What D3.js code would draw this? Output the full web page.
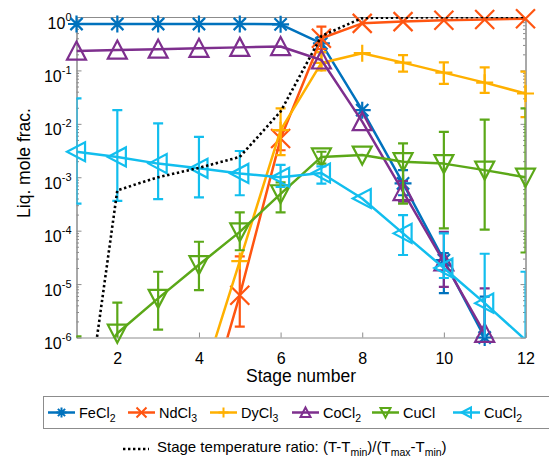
<!DOCTYPE html>
<html>
<head>
<meta charset="utf-8">
<script src="https://cdn.jsdelivr.net/npm/d3@7"></script>
<style>
  body { margin: 0; background: #fff; }
  svg { display: block; }
  text { font-family: "Liberation Sans", Arial, Helvetica, sans-serif; fill: #000; }
</style>
</head>
<body>
<svg id="chart" width="549" height="459"></svg>
<script>
// ---- data ----
const stages = [1, 2, 3, 4, 5, 6, 7, 8, 9, 10, 11, 12];
const xTicks = [2, 4, 6, 8, 10, 12];
const yTicks = [1e-6, 1e-5, 1e-4, 1e-3, 1e-2, 1e-1, 1];

const fecl2   = [0.74, 0.74, 0.74, 0.74, 0.74, 0.73, 0.32, 0.018, 7.7e-4, 2.8e-5, 1.0e-6, null];
const fecl2Lo = [null, null, null, null, null, null, 0.22, null, 4.6e-4, 6.8e-6, 1e-8, null];
const fecl2Hi = [null, null, null, null, null, null, 0.42, null, 1.36e-3, 3.8e-5, 5.8e-6, null];

const ndcl3   = [null, null, null, 1.5e-8, 6.2e-6, 5.3e-3, 0.40, 0.76, 0.82, 0.87, 0.90, 0.93];
const ndcl3Lo = [null, null, null, null, 1.6e-6, 3.2e-3, 0.25, null, null, null, null, null];
const ndcl3Hi = [null, null, null, null, 3.3e-5, 7.5e-3, 0.66, null, null, null, null, null];

const dycl3   = [null, null, null, 1e-7, 2.7e-5, 7.6e-3, 0.138, 0.21, 0.14, 0.091, 0.059, 0.037];
const dycl3Lo = [null, null, null, null, null, 2.6e-3, 0.10, null, 0.095, 0.056, 0.038, 0.0134];
const dycl3Hi = [null, null, null, null, null, 0.0195, 0.22, null, 0.194, 0.142, 0.114, 0.095];

const cocl2   = [0.23, 0.24, 0.25, 0.26, 0.27, 0.28, 0.157, 0.011, 5.4e-4, 2.6e-5, 1.2e-6, null];
const cocl2Lo = [null, null, null, null, null, null, null, null, 3.5e-4, 8.9e-6, 1e-8, null];
const cocl2Hi = [null, null, null, null, null, null, null, null, 8.5e-4, 9.5e-5, 8.3e-6, null];

const cucl    = [1e-7, 1.2e-6, 5.4e-6, 2.3e-5, 9.5e-5, 4.9e-4, 2.4e-3, 2.6e-3, 1.95e-3, 1.8e-3, 1.36e-3, 1.0e-3];
const cuclLo  = [1e-8, 1e-8, 1.4e-6, 7.7e-6, 4.3e-5, 2.2e-4, 1.8e-3, null, 3.2e-4, 1.1e-4, 1.05e-4, 3.9e-5];
const cuclHi  = [1.05e-6, 4.5e-6, 1.7e-5, 6.2e-5, 2.2e-4, 8.0e-4, 3.0e-3, null, 4.3e-3, 7.1e-3, 0.012, 0.0195];

const cucl2   = [3.0e-3, 2.4e-3, 1.8e-3, 1.47e-3, 1.18e-3, 1.0e-3, 1.2e-3, 4.0e-4, 8.9e-5, 2.0e-5, 4.4e-6, 9e-7];
const cucl2Lo = [3.2e-4, 3.6e-4, 3.9e-4, 4.2e-4, 4.6e-4, 6.6e-4, 7.6e-4, null, 3.5e-5, 1.3e-5, 1e-8, 1e-8];
const cucl2Hi = [0.030, 0.018, 0.0102, 5.7e-3, 3.1e-3, 1.7e-3, 1.6e-3, null, 1.95e-4, 8.9e-5, 3.7e-5, 1.7e-5];

const tempRatio = [1.7e-9, 5.7e-4, 1.0e-3, 1.5e-3, 2.4e-3, 0.017, 0.44, 0.96, 0.98, 0.99, 1.0, 1.0];

const series = [
  { name: 'FeCl', sub: '2', color: '#0072BD', marker: 'asterisk', vals: fecl2, lo: fecl2Lo, hi: fecl2Hi, lx: 48 },
  { name: 'NdCl', sub: '3', color: '#FF5511', marker: 'cross',    vals: ndcl3, lo: ndcl3Lo, hi: ndcl3Hi, lx: 128 },
  { name: 'DyCl', sub: '3', color: '#FFB000', marker: 'plus',     vals: dycl3, lo: dycl3Lo, hi: dycl3Hi, lx: 210 },
  { name: 'CoCl', sub: '2', color: '#7E2F8E', marker: 'triUp',    vals: cocl2, lo: cocl2Lo, hi: cocl2Hi, lx: 292 },
  { name: 'CuCl', sub: '',  color: '#5BA818', marker: 'triDown',  vals: cucl,  lo: cuclLo,  hi: cuclHi,  lx: 372 },
  { name: 'CuCl', sub: '2', color: '#12BEEE', marker: 'triLeft',  vals: cucl2, lo: cucl2Lo, hi: cucl2Hi, lx: 453 }
];

// ---- layout ----
const svg = d3.select('#chart');
const plotLeft = 76.5, plotRight = 525.5, plotTop = 17, plotBottom = 337.5;
const axisColor = '#8c8c8c';

const x = d3.scaleLinear().domain([1, 12]).range([plotLeft, plotRight]);
const y = d3.scaleLog().domain([1e-6, 1]).range([plotBottom, plotTop]);

svg.append('defs').append('clipPath').attr('id', 'plotClip')
  .append('rect')
  .attr('x', plotLeft).attr('y', plotTop)
  .attr('width', plotRight - plotLeft).attr('height', plotBottom - plotTop);

// minor ticks for log axis
const minorTicks = [];
yTicks.slice(0, -1).forEach(function(t) {
  for (let k = 2; k <= 9; k++) minorTicks.push(t * k);
});

function styleAxis(g) {
  g.selectAll('path, line').attr('stroke', axisColor);
  g.select('.domain').attr('stroke-width', 1);
}

// box + ticks
svg.append('g').attr('transform', `translate(0,${plotBottom})`)
  .call(d3.axisBottom(x).tickValues(xTicks).tickSize(-5).tickSizeOuter(0).tickPadding(15)
    .tickFormat(d3.format('d')))
  .call(styleAxis)
  .call(g => g.selectAll('text').attr('font-size', 16).attr('fill', '#000'));

svg.append('g').attr('transform', `translate(0,${plotTop})`)
  .call(d3.axisTop(x).tickValues(xTicks).tickSize(-5).tickSizeOuter(0).tickFormat(''))
  .call(styleAxis);

const yAxisG = svg.append('g').attr('transform', `translate(${plotLeft},0)`)
  .call(d3.axisLeft(y).tickValues(yTicks).tickSize(-5).tickSizeOuter(0).tickPadding(5))
  .call(styleAxis);

yAxisG.selectAll('.tick text').each(function(d) {
  const t = d3.select(this);
  t.text(null).attr('font-size', 16).attr('fill', '#000').attr('dy', null).attr('y', 11);
  t.append('tspan').text('10');
  t.append('tspan').attr('font-size', 11).attr('dy', -8).text(String(Math.round(Math.log10(d))));
});

svg.append('g').attr('transform', `translate(${plotLeft},0)`)
  .call(d3.axisLeft(y).tickValues(minorTicks).tickSize(-2.5).tickSizeOuter(0).tickFormat(''))
  .call(styleAxis);

svg.append('g').attr('transform', `translate(${plotRight},0)`)
  .call(d3.axisRight(y).tickValues(yTicks).tickSize(-5).tickSizeOuter(0).tickFormat(''))
  .call(styleAxis);

svg.append('g').attr('transform', `translate(${plotRight},0)`)
  .call(d3.axisRight(y).tickValues(minorTicks).tickSize(-2.5).tickSizeOuter(0).tickFormat(''))
  .call(styleAxis);

// axis titles
svg.append('text')
  .attr('x', (plotLeft + plotRight) / 2).attr('y', 382)
  .attr('text-anchor', 'middle').attr('font-size', 17.5)
  .text('Stage number');

svg.append('text')
  .attr('transform', 'translate(30,163) rotate(-90)')
  .attr('text-anchor', 'middle').attr('font-size', 17.5)
  .text('Liq. mole frac.');

// ---- markers ----
function markerPath(type, r) {
  const d = r * 0.72;
  switch (type) {
    case 'asterisk': return `M${-r},0H${r}M0,${-r}V${r}M${-d},${-d}L${d},${d}M${-d},${d}L${d},${-d}`;
    case 'cross':    return `M${-r},${-r}L${r},${r}M${-r},${r}L${r},${-r}`;
    case 'plus':     return `M${-r},0H${r}M0,${-r}V${r}`;
    case 'triUp':    return `M0,${-r}L${r},${r * 0.9}L${-r},${r * 0.9}Z`;
    case 'triDown':  return `M0,${r}L${r},${-r * 0.9}L${-r},${-r * 0.9}Z`;
    case 'triLeft':  return `M${-r},0L${r * 0.9},${-r}L${r * 0.9},${r}Z`;
  }
}
const markerSize = { asterisk: 8.5, cross: 9.5, plus: 8.5, triUp: 9.5, triDown: 9.5, triLeft: 9.5 };

const plot = svg.append('g');
const lineGen = d3.line()
  .defined(d => d.v != null)
  .x(d => x(d.s))
  .y(d => y(d.v));

series.forEach(function(sr) {
  const pts = stages.map((s, i) => ({ s: s, v: sr.vals[i], lo: sr.lo[i], hi: sr.hi[i] }));
  const g = plot.append('g');
  const clipped = g.append('g').attr('clip-path', 'url(#plotClip)');

  const eb = clipped.selectAll('g.eb').data(pts.filter(d => d.lo != null && d.hi != null)).enter()
    .append('g').attr('class', 'eb')
    .attr('stroke', sr.color).attr('stroke-width', 2.2).attr('fill', 'none');
  eb.append('line')
    .attr('x1', d => x(d.s)).attr('x2', d => x(d.s))
    .attr('y1', d => y(d.lo)).attr('y2', d => y(d.hi));
  eb.append('line')
    .attr('x1', d => x(d.s) - 5).attr('x2', d => x(d.s) + 5)
    .attr('y1', d => y(d.lo)).attr('y2', d => y(d.lo));
  eb.append('line')
    .attr('x1', d => x(d.s) - 5).attr('x2', d => x(d.s) + 5)
    .attr('y1', d => y(d.hi)).attr('y2', d => y(d.hi));

  clipped.append('path')
    .attr('d', lineGen(pts))
    .attr('fill', 'none').attr('stroke', sr.color)
    .attr('stroke-width', 2.5).attr('stroke-linejoin', 'round');

  g.selectAll('path.mk').data(pts.filter(d => d.v != null && d.v >= 0.99e-6 && d.v <= 1)).enter()
    .append('path').attr('class', 'mk')
    .attr('transform', d => `translate(${x(d.s)},${y(d.v)})`)
    .attr('d', markerPath(sr.marker, markerSize[sr.marker]))
    .attr('fill', 'none').attr('stroke', sr.color)
    .attr('stroke-width', 2.2).attr('stroke-linejoin', 'miter');
});

// temperature ratio (dotted)
plot.append('path')
  .attr('clip-path', 'url(#plotClip)')
  .attr('d', lineGen(stages.map((s, i) => ({ s: s, v: tempRatio[i] }))))
  .attr('fill', 'none').attr('stroke', '#000')
  .attr('stroke-width', 2.6).attr('stroke-dasharray', '2.4,2.6');

// ---- legend ----
const legend = svg.append('g');
legend.append('rect')
  .attr('x', 43.5).attr('y', 396.5).attr('width', 520).attr('height', 32)
  .attr('fill', '#fff').attr('stroke', axisColor).attr('stroke-width', 1);

series.forEach(function(sr) {
  const ly = 412.5;
  legend.append('line')
    .attr('x1', sr.lx).attr('x2', sr.lx + 27).attr('y1', ly).attr('y2', ly)
    .attr('stroke', sr.color).attr('stroke-width', 2.5);
  legend.append('path')
    .attr('transform', `translate(${sr.lx + 13.5},${ly})`)
    .attr('d', markerPath(sr.marker, 5))
    .attr('fill', 'none').attr('stroke', sr.color).attr('stroke-width', 2);
  const t = legend.append('text').attr('x', sr.lx + 31).attr('y', ly + 5).attr('font-size', 14.5);
  t.append('tspan').text(sr.name);
  if (sr.sub) t.append('tspan').attr('font-size', 10.5).attr('dy', 4).text(sr.sub);
});

legend.append('line')
  .attr('x1', 123).attr('x2', 149).attr('y1', 449).attr('y2', 449)
  .attr('stroke', '#000').attr('stroke-width', 2.6).attr('stroke-dasharray', '2.4,2.6');

const tt = legend.append('text').attr('x', 157).attr('y', 452).attr('font-size', 15);
[['Stage temperature ratio: (T-T', 0], ['min', 1], [')/(T', 0], ['max', 1], ['-T', 0], ['min', 1], [')', 0]]
  .forEach(function(p, i, arr) {
    const prevSub = i > 0 && arr[i - 1][1];
    const span = tt.append('tspan').text(p[0]);
    if (p[1]) span.attr('font-size', 10.5).attr('dy', 3.5);
    else if (prevSub) span.attr('dy', -3.5);
  });
</script>
</body>
</html>
